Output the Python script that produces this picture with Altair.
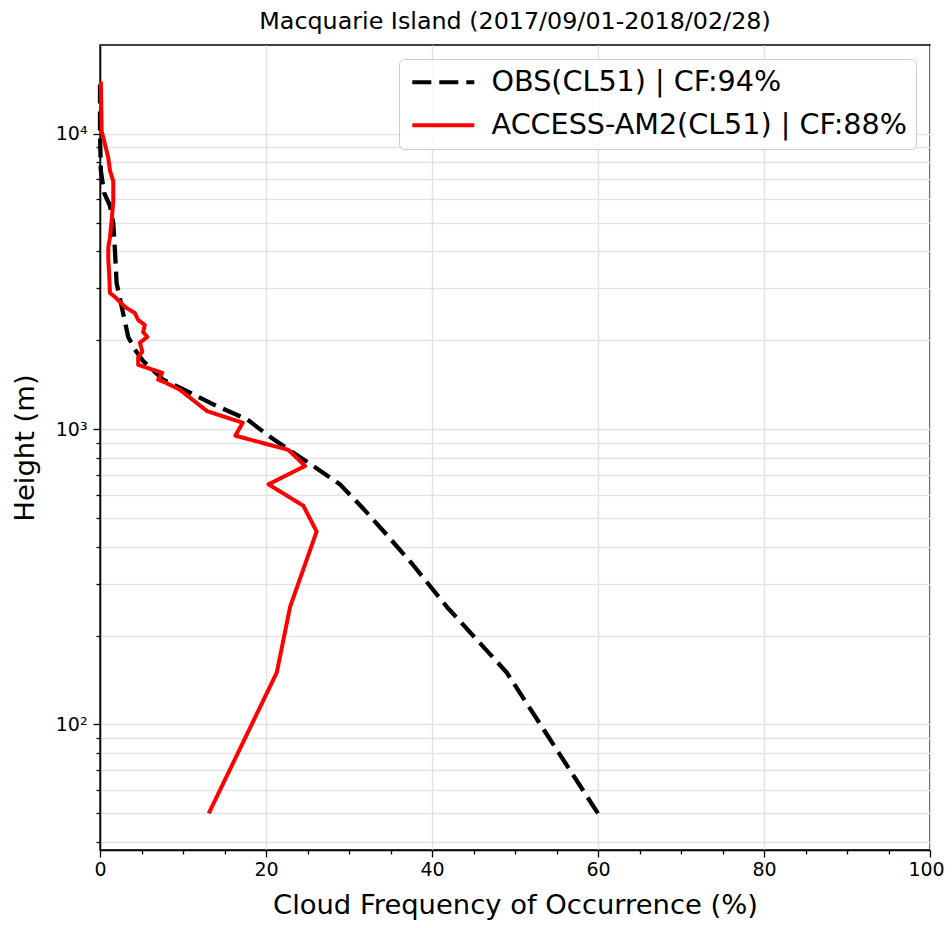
import altair as alt
import pandas as pd

OBS = "OBS(CL51) | CF:94%"
ACC = "ACCESS-AM2(CL51) | CF:88%"

obs_height = [50, 150, 250, 350, 450, 550, 650, 750, 850, 950, 1080, 1195, 1330, 1470,
              1700, 1860, 2050, 2530, 3120, 4030, 4970, 5700, 6300, 7500, 10000, 15000]
obs_freq = [60.0, 49.0, 41.8, 37.6, 34.2, 31.4, 28.9, 25.7, 22.8, 20.3, 17.7, 14.1, 10.8, 7.6,
            5.2, 4.2, 3.4, 2.7, 2.0, 1.8, 1.6, 1.2, 0.5, 0.1, 0.0, 0.0]

acc_height = [50, 150, 250, 450, 550, 650, 750, 850, 950, 1050, 1150, 1360, 1440, 1470,
              1550, 1590, 1650, 1750, 1830, 1960, 2050, 2130, 2250, 2340, 2470, 2590,
              2800, 2890, 3370, 3720, 4120, 4450, 5070, 5900, 6900, 7500, 8270, 9200,
              10200, 15000]
acc_freq = [13.1, 21.3, 22.9, 26.1, 24.5, 20.3, 24.7, 22.7, 16.3, 17.2, 12.9, 9.6, 7.8, 7.0,
            7.5, 6.3, 4.6, 4.6, 5.1, 4.8, 5.7, 5.2, 5.4, 4.6, 4.2, 3.0,
            1.8, 1.2, 1.1, 1.0, 1.0, 1.2, 1.4, 1.6, 1.6, 1.2, 1.0, 0.6,
            0.2, 0.1]

x_ticks = list(range(0, 101, 5))
y_ticks = [40, 50, 60, 70, 80, 90, 100, 200, 300, 400, 500, 600, 700, 800, 900,
           1000, 2000, 3000, 4000, 5000, 6000, 7000, 8000, 9000, 10000]

rows = []
for i, (h, v) in enumerate(zip(obs_height, obs_freq)):
    rows.append({"series": OBS, "h": h, "v": v, "i": i})
for i, (h, v) in enumerate(zip(acc_height, acc_freq)):
    rows.append({"series": ACC, "h": h, "v": v, "i": i})
df = pd.DataFrame(rows)

legend = alt.Legend(
    title=None, orient="top-right", offset=14,
    symbolType="M-1,0H5.2", symbolSize=400, symbolStrokeWidth=4,
    labelFontSize=28.6, labelFont="DejaVu Sans", labelColor="black", labelLimit=700,
    labelOffset=55, rowPadding=14, padding=9,
    strokeColor="#cccccc", fillColor="rgba(255,255,255,0.85)", cornerRadius=5,
)

color = alt.Color("series:N", scale=alt.Scale(domain=[OBS, ACC], range=["black", "red"]),
                  legend=legend)
dash = alt.StrokeDash("series:N", scale=alt.Scale(domain=[OBS, ACC], range=[[19, 8], [1, 0]]),
                      legend=legend)

xaxis = alt.Axis(
    values=x_ticks,
    labelExpr="datum.value % 20 == 0 ? datum.label : ''",
    tickSize={"condition": {"test": "datum.value % 20 == 0", "value": 7}, "value": 4},
    gridOpacity={"condition": {"test": "datum.value % 20 == 0", "value": 1}, "value": 0},
    labelOffset={"condition": {"test": "datum.value == 100", "value": -4}, "value": 0},
    title="Cloud Frequency of Occurrence (%)", titleFontSize=27.4, titlePadding=12,
    labelFontSize=19, labelPadding=3, labelFlush=False,
)
yaxis = alt.Axis(
    values=y_ticks,
    labelExpr="datum.value == 100 ? '10²' : datum.value == 1000 ? '10³' : datum.value == 10000 ? '10⁴' : ''",
    tickSize={"condition": {"test": "datum.value == 100 || datum.value == 1000 || datum.value == 10000", "value": 7}, "value": 4},
    title="Height (m)", titleFontSize=27.4, titlePadding=16,
    labelFontSize=19, labelPadding=6,
)

base = alt.Chart(df).encode(
    x=alt.X("v:Q", scale=alt.Scale(domain=[0, 100], nice=False, zero=False), axis=xaxis),
    y=alt.Y("h:Q", scale=alt.Scale(type="log", domain=[37.6, 19950], nice=False), axis=yaxis),
    color=color,
    strokeDash=dash,
    order="i:Q",
)

obs_line = base.transform_filter(alt.datum.series == OBS).mark_line(
    strokeWidth=4.3, strokeJoin="round", strokeCap="butt")
acc_line = base.transform_filter(alt.datum.series == ACC).mark_line(
    strokeWidth=4, strokeJoin="round")

chart = alt.layer(obs_line, acc_line).properties(
    width=830, height=805,
    title=alt.Title("Macquarie Island (2017/09/01-2018/02/28)", fontSize=23.8, font="DejaVu Sans",
                    fontWeight="normal", color="black", anchor="middle", offset=11),
    autosize=alt.AutoSizeParams(type="none"),
    padding={"left": 92, "top": 37, "right": 14, "bottom": 70},
).configure_view(
    stroke="black", strokeWidth=1.5
).configure_axis(
    domainColor="black", domainWidth=1.5, tickColor="black", tickWidth=1.3,
    gridColor="#e3e3e3", gridWidth=1.5,
    labelFont="DejaVu Sans", labelColor="black",
    titleFont="DejaVu Sans", titleColor="black", titleFontWeight="normal",
)

chart.save("out.html", embed_options={"renderer": "svg", "actions": False})
